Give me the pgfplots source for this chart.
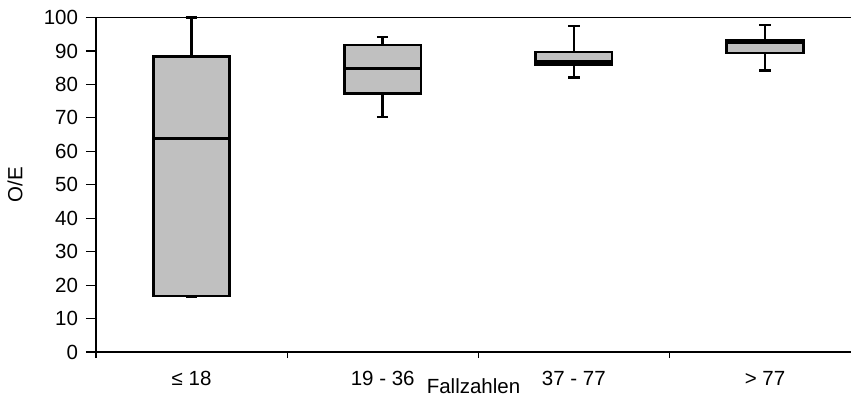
\documentclass[border=0pt]{standalone}
\usepackage{fontspec}
\setmainfont{Liberation Sans}
\usepackage{pgfplots}
\pgfplotsset{compat=1.18}
\definecolor{boxgray}{RGB}{192,192,192}
\newcommand{\lblfont}{\fontsize{20.5bp}{24bp}\selectfont}
\begin{document}
\lblfont
\begin{tikzpicture}
\begin{axis}[
  scale only axis,
  width=755bp, height=334.5bp,
  xmin=-0.5, xmax=3.45,
  ymin=0, ymax=100,
  ytick={0,10,...,100},
  xtick={0,1,2,3},
  xticklabels={≤ 18, 19 - 36, 37 - 77, > 77},
  minor xtick={-0.5,0.5,1.5,2.5},
  separate axis lines,
  axis x line*=box,
  axis y line*=left,
  axis line style={line width=1.2bp, black},
  tick style={line width=1.2bp, black},
  tick align=outside,
  major x tick style={draw=none},
  major tick length=10bp,
  minor tick length=6bp,
  xtick pos=bottom,
  ytick pos=left,
  /pgf/number format/assume math mode=true,
  ticklabel style={font=\lblfont},
  xticklabel style={yshift=-2bp},
  yticklabel style={xshift=-1bp},
  xlabel={Fallzahlen},
  ylabel={O/E},
  xlabel style={at={(axis description cs:0.5,0)}, anchor=center, yshift=-34bp, font=\lblfont},
  ylabel style={at={(axis description cs:0,0.5)}, anchor=center, yshift=81bp, font=\lblfont},
  unbounded coords=jump,
  clip=false,
]
% whiskers (stem + cap), separated by nan
\addplot[black, line width=2.6bp, mark=none] coordinates {
  (0,88.3) (0,100) (0,nan) (-0.03,100) (0.03,100) (0,nan)
  (0,16.8) (0,16.6) (0,nan) (-0.03,16.6) (0.03,16.6) (0,nan)
  (1,91.8) (1,94.2) (1,nan) (0.97,94.2) (1.03,94.2) (1,nan)
  (1,77.2) (1,70.3) (1,nan) (0.97,70.3) (1.03,70.3) (1,nan)
  (2,89.7) (2,97.5) (2,nan) (1.97,97.5) (2.03,97.5) (2,nan)
  (2,86.0) (2,82.1) (2,nan) (1.97,82.1) (2.03,82.1) (2,nan)
  (3,93.2) (3,97.8) (3,nan) (2.97,97.8) (3.03,97.8) (3,nan)
  (3,89.4) (3,84.2) (3,nan) (2.97,84.2) (3.03,84.2)
};
% boxes (lower quartile, upper quartile)
\addplot[black, line width=2.6bp, fill=boxgray, mark=none] coordinates {(-0.2,16.8) (0.2,16.8) (0.2,88.3) (-0.2,88.3)} -- cycle;
\addplot[black, line width=2.6bp, fill=boxgray, mark=none] coordinates {(0.8,77.2) (1.2,77.2) (1.2,91.8) (0.8,91.8)} -- cycle;
\addplot[black, line width=2.6bp, fill=boxgray, mark=none] coordinates {(1.8,86.0) (2.2,86.0) (2.2,89.7) (1.8,89.7)} -- cycle;
\addplot[black, line width=2.6bp, fill=boxgray, mark=none] coordinates {(2.8,89.4) (3.2,89.4) (3.2,93.2) (2.8,93.2)} -- cycle;
% medians
\addplot[black, line width=2.4bp, mark=none] coordinates {
  (-0.2,63.8) (0.2,63.8) (0,nan)
  (0.8,84.7) (1.2,84.7) (1,nan)
  (1.8,86.8) (2.2,86.8) (2,nan)
  (2.8,92.5) (3.2,92.5)
};
\coordinate (sw) at (rel axis cs:0,0);
\coordinate (ne) at (axis cs:3.45,100);
\end{axis}
\pgfresetboundingbox
\useasboundingbox ([xshift=-96bp,yshift=-46bp]sw) rectangle ([yshift=17.5bp]ne);
\end{tikzpicture}
\end{document}
